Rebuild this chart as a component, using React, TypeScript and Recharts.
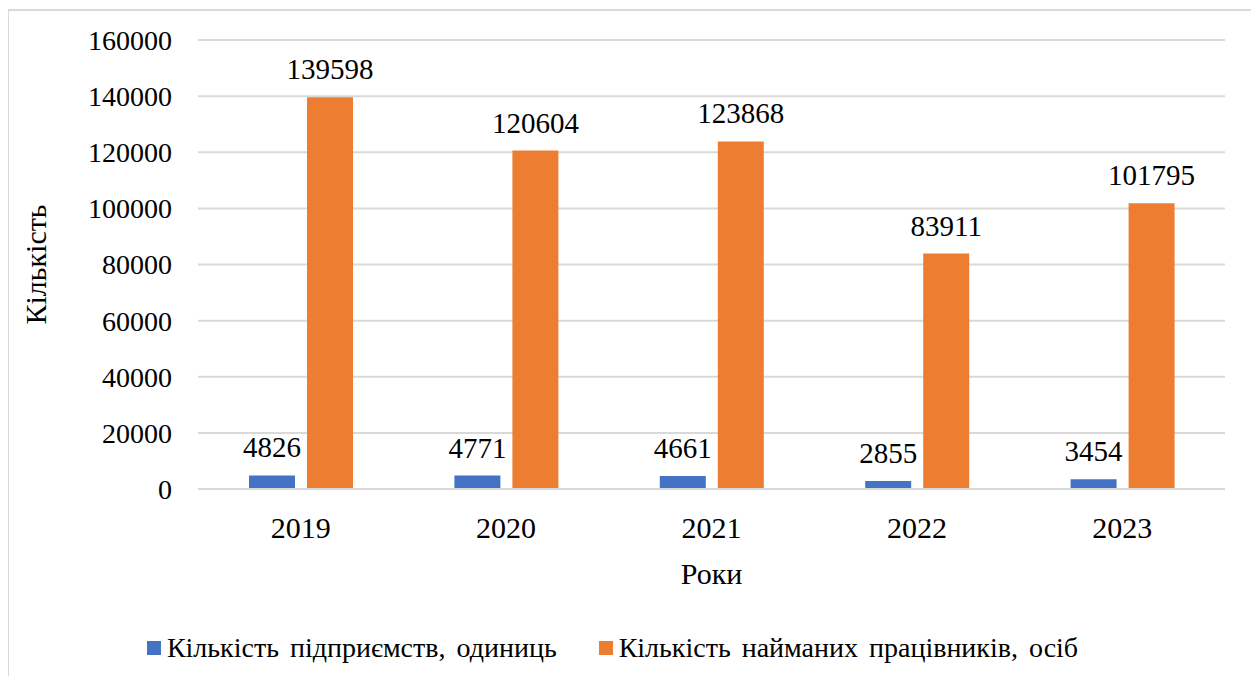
import React from 'react';
import { BarChart, Bar, XAxis, YAxis, CartesianGrid, Legend, LabelList } from 'recharts';

// Роки та показники
const years = ['2019', '2020', '2021', '2022', '2023'];
const enterprises = [4826, 4771, 4661, 2855, 3454];
const employees = [139598, 120604, 123868, 83911, 101795];
const yTicks = [0, 20000, 40000, 60000, 80000, 100000, 120000, 140000, 160000];

const SERIES_A = 'Кількість підприємств, одиниць';
const SERIES_B = 'Кількість найманих працівників, осіб';

const BLUE = '#4472C4';
const ORANGE = '#ED7D31';
const GRID = '#d9d9d9';
const FONT = 'Liberation Serif';

const chartData = years.map((year, i) => ({
    year,
    enterprises: enterprises[i],
    employees: employees[i],
}));

const LegendContent = () => (
    <div style={{ display: 'flex', justifyContent: 'center', alignItems: 'center', height: 40, fontFamily: FONT, fontSize: 28, color: '#000' }}>
        {[{ name: SERIES_A, color: BLUE }, { name: SERIES_B, color: ORANGE }].map((item, i) => (
            <div key={item.name} style={{ display: 'flex', alignItems: 'center', marginLeft: i ? 42 : 0 }}>
                <span style={{ width: 14, height: 14, background: item.color, display: 'inline-block', marginRight: 6 }} />
                <span style={{ whiteSpace: 'pre', wordSpacing: 4 }}>{item.name}</span>
            </div>
        ))}
    </div>
);

const App = () => {
    return (
        <div style={{ position: 'relative', margin: -8, width: 1259, height: 684, fontFamily: FONT, background: '#fff' }}>
            {/* рамка діаграми */}
            <div style={{ position: 'absolute', left: 7, top: 9, width: 1242, height: 672, borderTop: `2px solid ${GRID}`, borderLeft: `2px solid ${GRID}`, borderRight: `2px solid ${GRID}` }} />
            <div style={{ position: 'absolute', left: 0, top: 0 }}>
                <BarChart
                    width={1259}
                    height={684}
                    data={chartData}
                    margin={{ top: 40, right: 34, left: 0, bottom: 16 }}
                    barSize={46}
                    barGap={12}
                >
                    <CartesianGrid vertical={false} stroke={GRID} strokeWidth={2} />
                    <XAxis
                        dataKey="year"
                        height={139}
                        axisLine={{ stroke: GRID, strokeWidth: 2 }}
                        tickLine={false}
                        tickSize={0}
                        tickMargin={28}
                        tick={{ fill: '#000', fontSize: 30, fontFamily: FONT }}
                        label={{ value: 'Роки', position: 'insideBottom', offset: 44, fill: '#000', fontSize: 30, fontFamily: FONT }}
                    />
                    <YAxis
                        width={198}
                        domain={[0, 160000]}
                        ticks={yTicks}
                        axisLine={false}
                        tickLine={false}
                        tickSize={0}
                        tickMargin={26}
                        tick={{ fill: '#000', fontSize: 28, fontFamily: FONT }}
                        label={{ value: 'Кількість', angle: -90, position: 'insideLeft', offset: 35, fill: '#000', fontSize: 30, fontFamily: FONT, style: { textAnchor: 'middle' } }}
                    />
                    <Legend verticalAlign="bottom" height={40} content={<LegendContent />} />
                    <Bar dataKey="enterprises" name={SERIES_A} fill={BLUE} isAnimationActive={false}>
                        <LabelList dataKey="enterprises" position="top" offset={18} fill="#000" fontSize={29} fontFamily={FONT} />
                    </Bar>
                    <Bar dataKey="employees" name={SERIES_B} fill={ORANGE} isAnimationActive={false}>
                        <LabelList dataKey="employees" position="top" offset={18} fill="#000" fontSize={29} fontFamily={FONT} />
                    </Bar>
                </BarChart>
            </div>
        </div>
    );
};

export default App;
